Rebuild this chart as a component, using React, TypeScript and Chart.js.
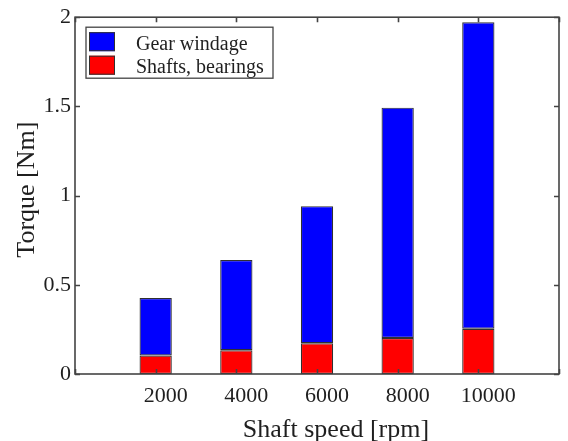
import { useEffect, useRef } from "react";
import { Chart, registerables } from "chart.js";

Chart.register(...registerables);

// Shaft speeds (rpm) and the two torque contributions (Nm), stacked per speed
const speeds = [2000, 4000, 6000, 8000, 10000];
const shaftsBearings = [0.104, 0.133, 0.172, 0.202, 0.254];
const gearWindage = [0.322, 0.506, 0.769, 1.291, 1.718];

const seriesLabels = ["Shafts, bearings", "Gear windage"];
const seriesColors = ["#ff0000", "#0000ff"];

const xTitle = "Shaft speed [rpm]";
const yTitle = "Torque [Nm]";

const FONT = '"Liberation Serif", "Times New Roman", Times, serif';
const INK = "#1f1f1f";
const FRAME = "#444444";
const BAR_EDGE = "#303030";

// Draws the boxed frame with inward ticks, the axis titles and the legend
const framePlugin = {
  id: "frame",
  afterDatasetsDraw(chart: any) {
    const { ctx, chartArea: a, scales } = chart;
    ctx.save();

    // inward tick marks on all four sides
    const len = 5;
    ctx.strokeStyle = FRAME;
    ctx.lineWidth = 1.6;
    ctx.beginPath();
    for (const t of scales.x.ticks) {
      const px = Math.round(scales.x.getPixelForValue(t.value)) + 0.5;
      ctx.moveTo(px, a.bottom);
      ctx.lineTo(px, a.bottom - len);
      ctx.moveTo(px, a.top);
      ctx.lineTo(px, a.top + len);
    }
    for (const t of scales.y.ticks) {
      const py = Math.round(scales.y.getPixelForValue(t.value)) + 0.5;
      ctx.moveTo(a.left, py);
      ctx.lineTo(a.left + len, py);
      ctx.moveTo(a.right, py);
      ctx.lineTo(a.right - len, py);
    }
    ctx.stroke();
    ctx.strokeRect(a.left, a.top, a.right - a.left, a.bottom - a.top);

    // axis titles
    ctx.fillStyle = INK;
    ctx.font = `26px ${FONT}`;
    ctx.textAlign = "center";
    ctx.textBaseline = "alphabetic";
    ctx.fillText(xTitle, (a.left + a.right) / 2 + 19, a.bottom + 63);

    ctx.save();
    ctx.translate(27, (a.top + a.bottom) / 2 - 6);
    ctx.rotate(-Math.PI / 2);
    ctx.textBaseline = "middle";
    ctx.fillText(yTitle, 0, 0);
    ctx.restore();

    // legend box, top series listed first
    const bx = a.left + 11;
    const by = a.top + 10;
    const bw = 187;
    const bh = 51;
    ctx.fillStyle = "#ffffff";
    ctx.fillRect(bx, by, bw, bh);
    ctx.strokeStyle = FRAME;
    ctx.lineWidth = 1.3;
    ctx.strokeRect(bx, by, bw, bh);

    const ds = chart.data.datasets.slice().reverse();
    ctx.font = `20px ${FONT}`;
    ctx.textAlign = "left";
    ctx.textBaseline = "alphabetic";
    ds.forEach((d: any, i: number) => {
      const sy = by + 5 + i * 23.5;
      ctx.fillStyle = d.backgroundColor;
      ctx.fillRect(bx + 3, sy, 26, 19);
      ctx.strokeStyle = BAR_EDGE;
      ctx.lineWidth = 1;
      ctx.strokeRect(bx + 3.5, sy + 0.5, 25, 18);
      ctx.fillStyle = INK;
      ctx.fillText(d.label, bx + 50, sy + 17.5);
    });

    ctx.restore();
  },
};

export default function App() {
  const canvasRef = useRef<HTMLCanvasElement | null>(null);

  useEffect(() => {
    const canvas = canvasRef.current;
    if (!canvas) return;

    const toPoints = (vals: number[]) => speeds.map((s, i) => ({ x: s, y: vals[i] }));

    const chart = new Chart(canvas, {
      type: "bar",
      data: {
        datasets: [
          {
            label: seriesLabels[0],
            data: toPoints(shaftsBearings),
            backgroundColor: seriesColors[0],
            borderColor: BAR_EDGE,
            borderWidth: 1.2,
            borderSkipped: false,
            barPercentage: 0.4,
            categoryPercentage: 1,
            stack: "torque",
          },
          {
            label: seriesLabels[1],
            data: toPoints(gearWindage),
            backgroundColor: seriesColors[1],
            borderColor: BAR_EDGE,
            borderWidth: 1.2,
            borderSkipped: false,
            barPercentage: 0.4,
            categoryPercentage: 1,
            stack: "torque",
          },
        ],
      },
      options: {
        responsive: false,
        animation: false,
        layout: { padding: { top: 14, right: 7, left: 0, bottom: 0 } },
        plugins: {
          legend: { display: false },
          tooltip: { enabled: false },
        },
        scales: {
          x: {
            type: "linear",
            stacked: true,
            offset: false,
            min: 0,
            max: 12000,
            grid: { display: false, drawTicks: false, offset: false },
            border: { display: false },
            ticks: {
              stepSize: 2000,
              autoSkip: false,
              maxRotation: 0,
              padding: 9,
              labelOffset: 10,
              color: INK,
              font: { family: FONT, size: 22 },
              callback: (v: any) => (v === 0 || v === 12000 ? "" : String(v)),
            },
            afterFit: (s: any) => {
              s.height = 67;
            },
          },
          y: {
            stacked: true,
            min: 0,
            max: 2,
            grid: { display: false, drawTicks: false },
            border: { display: false },
            ticks: {
              stepSize: 0.5,
              padding: 4,
              color: INK,
              font: { family: FONT, size: 22 },
              callback: (v: any) => String(v),
            },
            afterFit: (s: any) => {
              s.width = 75;
            },
          },
        },
      },
      plugins: [framePlugin],
    });

    return () => chart.destroy();
  }, []);

  return (
    <div style={{ position: "absolute", left: 0, top: 0, width: 568, height: 441, background: "#fff" }}>
      <canvas ref={canvasRef} width={568} height={441} />
    </div>
  );
}
